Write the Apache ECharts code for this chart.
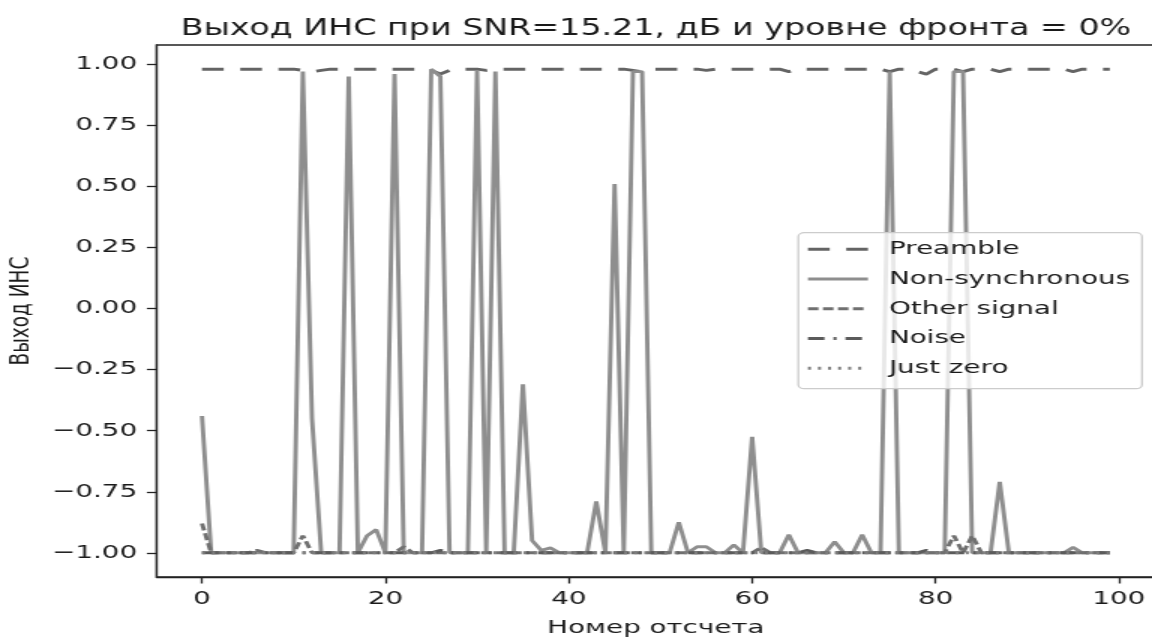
<!DOCTYPE html>
<html>
<head>
<meta charset="utf-8">
<title>Выход ИНС</title>
<script src="https://cdn.jsdelivr.net/npm/echarts@6/dist/echarts.min.js"></script>
<style>
  html, body { margin: 0; padding: 0; background: #fff; overflow: hidden; }
  /* la figura original está estirada en horizontal (~1.5x): se dibuja estrecha y se estira */
  #chart { width: 768px; height: 641px; transform: scaleX(1.5); transform-origin: 0 0; }
</style>
</head>
<body>
<div id="chart"></div>
<script>
// --- Datos (índice = número de muestra 0..99) ---
const xTicks = [0, 20, 40, 60, 80, 100];
const yTicks = [-1, -0.75, -0.5, -0.25, 0, 0.25, 0.5, 0.75, 1];

const preamble = [
  0.98, 0.98, 0.98, 0.98, 0.98, 0.98, 0.98, 0.98, 0.98, 0.98,
  0.98, 0.975, 0.97, 0.975, 0.98, 0.98, 0.98, 0.98, 0.98, 0.98,
  0.98, 0.98, 0.98, 0.98, 0.98, 0.975, 0.96, 0.975, 0.98, 0.98,
  0.98, 0.975, 0.98, 0.98, 0.98, 0.98, 0.98, 0.98, 0.98, 0.98,
  0.98, 0.98, 0.98, 0.98, 0.98, 0.98, 0.98, 0.975, 0.97, 0.98,
  0.98, 0.98, 0.98, 0.98, 0.98, 0.975, 0.98, 0.98, 0.98, 0.98,
  0.98, 0.98, 0.98, 0.98, 0.97, 0.98, 0.98, 0.98, 0.98, 0.98,
  0.98, 0.98, 0.98, 0.98, 0.98, 0.97, 0.98, 0.98, 0.97, 0.96,
  0.98, 0.98, 0.98, 0.97, 0.98, 0.98, 0.98, 0.97, 0.98, 0.98,
  0.98, 0.98, 0.98, 0.98, 0.98, 0.97, 0.98, 0.98, 0.98, 0.98
];

const nonSync = [
  -0.44, -1, -1, -1, -1, -1, -1, -1, -1, -1,
  -1, 0.97, -0.45, -1, -1, -1, 0.95, -1, -0.93, -0.905,
  -1, 0.96, -1, -1, -1, 0.98, 0.95, -1, -1, -1,
  0.975, -1, 0.97, -1, -1, -0.31, -0.95, -0.99, -0.98, -1,
  -1, -1, -1, -0.79, -1, 0.51, -1, 0.97, 0.97, -1,
  -1, -1, -0.875, -1, -0.975, -0.975, -1, -1, -0.967, -1,
  -0.525, -1, -1, -1, -0.926, -1, -1, -1, -1, -0.955,
  -1, -1, -0.926, -1, -1, 0.97, -1, -1, -1, -1,
  -1, -1, 0.97, 0.97, -1, -1, -1, -0.71, -1, -1,
  -1, -1, -1, -1, -1, -0.978, -1, -1, -1, -1
];

const otherSignal = [
  -0.88, -1, -1, -1, -1, -1, -0.99, -1, -1, -1,
  -1, -0.93, -1, -1, -1, -1, -1, -1, -1, -1,
  -1, -1, -0.975, -1, -1, -1, -1, -1, -1, -1,
  -1, -1, -1, -1, -1, -1, -1, -1, -1, -1,
  -1, -1, -1, -1, -1, -1, -1, -1, -1, -1,
  -1, -1, -1, -1, -1, -1, -1, -1, -1, -1,
  -1, -0.978, -1, -1, -1, -1, -1, -1, -1, -1,
  -1, -1, -1, -1, -1, -1, -1, -1, -1, -1,
  -1, -1, -0.93, -1, -0.93, -1, -1, -1, -1, -1,
  -1, -1, -1, -1, -1, -1, -1, -1, -1, -1
];

const noise = [
  -1, -1, -1, -1, -1, -1, -1, -1, -1, -1,
  -1, -1, -1, -1, -1, -1, -1, -1, -1, -1,
  -1, -1, -1, -1, -1, -1, -0.99, -1, -1, -1,
  -1, -1, -1, -1, -1, -1, -1, -1, -1, -1,
  -1, -1, -1, -1, -1, -1, -1, -1, -1, -1,
  -1, -1, -1, -1, -1, -1, -1, -1, -1, -1,
  -1, -1, -1, -1, -1, -1, -0.99, -1, -1, -1,
  -1, -1, -1, -1, -1, -1, -1, -1, -1, -0.99,
  -1, -1, -1, -1, -1, -1, -1, -1, -1, -1,
  -1, -1, -1, -1, -1, -1, -1, -1, -1, -1
];

const justZero = [
  -1, -1, -1, -1, -1, -1, -1, -1, -1, -1,
  -1, -1, -1, -1, -1, -1, -1, -1, -1, -1,
  -1, -1, -1, -1, -1, -1, -1, -1, -1, -1,
  -1, -1, -1, -1, -1, -1, -1, -1, -1, -1,
  -1, -1, -1, -1, -1, -1, -1, -1, -1, -1,
  -1, -1, -1, -1, -1, -1, -1, -1, -1, -1,
  -1, -1, -1, -1, -1, -1, -1, -1, -1, -1,
  -1, -1, -1, -1, -1, -1, -1, -1, -1, -1,
  -1, -1, -1, -1, -1, -1, -1, -1, -1, -1,
  -1, -1, -1, -1, -1, -1, -1, -1, -1, -1
];

const seriesNames = ['Preamble', 'Non-synchronous', 'Other signal', 'Noise', 'Just zero'];
const titleText = 'Выход ИНС при SNR=15.21, дБ и уровне фронта = 0%';

// --- Estilo ---
const textColor = '#1a1a1a';
const axisColor = '#222222';
const fontFamily = 'DejaVu Sans';
const fontSize = 18.5;
const lw = 2.9;

function toPairs(arr) {
    return arr.map((v, i) => [i, v]);
}

function fmtY(v) {
    const s = Math.abs(v).toFixed(2);
    return v < 0 ? '\u2212' + s : s;
}

const chart = echarts.init(document.getElementById('chart'));

chart.setOption({
    animation: false,
    backgroundColor: '#ffffff',
    graphic: [{
        type: 'text',
        x: 437.3,
        y: 29,
        style: {
            text: titleText,
            fontSize: 22.2,
            fontFamily: fontFamily,
            fill: textColor,
            align: 'center',
            verticalAlign: 'middle',
            textAlign: 'center',
            textVerticalAlign: 'middle'
        }
    }],
    grid: {
        left: 104.4,
        top: 45,
        width: 665.7,
        height: 532,
        show: true,
        borderColor: axisColor,
        borderWidth: 1.3,
        backgroundColor: 'transparent',
        containLabel: false,
        outerBoundsMode: 'none'
    },
    legend: {
        orient: 'vertical',
        left: 532.2,
        top: 232.7,
        data: seriesNames,
        itemWidth: 40,
        itemHeight: 19,
        itemGap: 10.75,
        padding: [7, 8, 11, 5],
        backgroundColor: 'rgba(255,255,255,0.8)',
        borderColor: '#cccccc',
        borderWidth: 1.3,
        borderRadius: 4,
        selectedMode: false,
        itemStyle: { opacity: 0 },
        lineStyle: { width: lw },
        textStyle: {
            fontSize: fontSize,
            fontFamily: fontFamily,
            color: textColor,
            lineHeight: 19,
            padding: [0, 0, 0, 9]
        }
    },
    xAxis: {
        type: 'value',
        min: -4.95,
        max: 103.95,
        axisLine: { show: true, onZero: false, lineStyle: { color: axisColor, width: 1.3 } },
        axisTick: { show: true, customValues: xTicks, length: 6.5, lineStyle: { color: axisColor, width: 1.3 } },
        axisLabel: { customValues: xTicks, margin: 13, fontSize: fontSize, fontFamily: fontFamily, color: textColor },
        splitLine: { show: false },
        name: 'Номер отсчета',
        nameLocation: 'middle',
        nameGap: 42,
        nameTextStyle: { fontSize: fontSize, fontFamily: fontFamily, color: textColor }
    },
    yAxis: {
        type: 'value',
        min: -1.099,
        max: 1.079,
        axisLine: { show: true, onZero: false, lineStyle: { color: axisColor, width: 1.3 } },
        axisTick: { show: true, customValues: yTicks, length: 6.5, lineStyle: { color: axisColor, width: 1.3 } },
        axisLabel: { customValues: yTicks, formatter: fmtY, margin: 13, fontSize: fontSize, fontFamily: fontFamily, color: textColor },
        splitLine: { show: false },
        name: 'Выход ИНС',
        nameLocation: 'middle',
        nameGap: 77,
        nameRotate: 90,
        nameTextStyle: { fontSize: fontSize, fontFamily: fontFamily, color: textColor }
    },
    series: [
        {
            name: seriesNames[0], type: 'line', data: toPairs(preamble), symbol: 'none', silent: true,
            itemStyle: { color: '#646464' },
            lineStyle: { color: '#646464', width: lw, type: [14.5, 11] }
        },
        {
            name: seriesNames[1], type: 'line', data: toPairs(nonSync), symbol: 'none', silent: true,
            itemStyle: { color: '#8e8e8e' },
            lineStyle: { color: '#8e8e8e', width: lw, type: 'solid' }
        },
        {
            name: seriesNames[2], type: 'line', data: toPairs(otherSignal), symbol: 'none', silent: true,
            itemStyle: { color: '#707070' },
            lineStyle: { color: '#707070', width: lw, type: [7, 3] }
        },
        {
            name: seriesNames[3], type: 'line', data: toPairs(noise), symbol: 'none', silent: true,
            itemStyle: { color: '#5b5b5b' },
            lineStyle: { color: '#5b5b5b', width: lw, type: [11, 6, 2, 6] }
        },
        {
            name: seriesNames[4], type: 'line', data: toPairs(justZero), symbol: 'none', silent: true,
            itemStyle: { color: '#7e7e7e' },
            lineStyle: { color: '#7e7e7e', width: lw, type: [2, 4.7] }
        }
    ]
});
</script>
</body>
</html>
